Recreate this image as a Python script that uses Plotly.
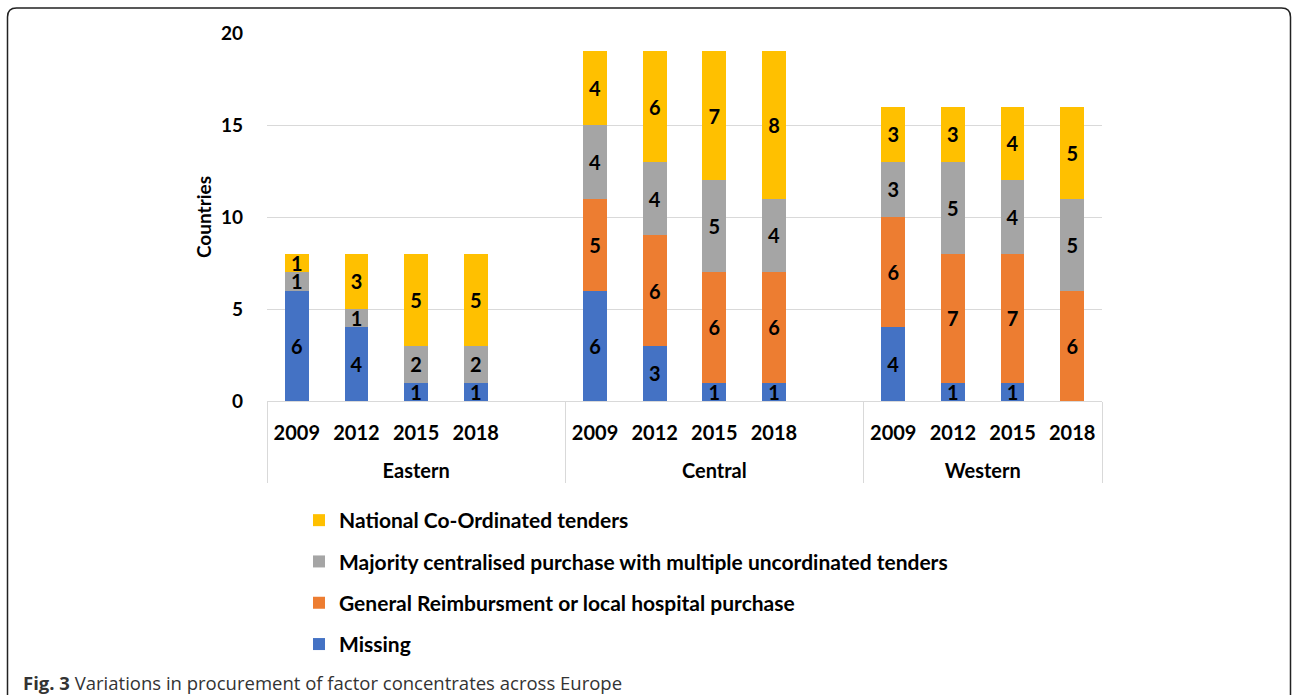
import plotly.graph_objects as go

regions = ["Eastern"] * 5 + ["Central"] * 5 + ["Western"] * 4
years = ["2009", "2012", "2015", "2018", " "] * 2 + ["2009", "2012", "2015", "2018"]

missing = [6, 4, 1, 1, None, 6, 3, 1, 1, None, 4, 1, 1, 0]
general = [0, 0, 0, 0, None, 5, 6, 6, 6, None, 6, 7, 7, 6]
majority = [1, 1, 2, 2, None, 4, 4, 5, 4, None, 3, 5, 4, 5]
national = [1, 3, 5, 5, None, 4, 6, 7, 8, None, 3, 3, 4, 5]

series = [
    ("Missing", missing, "#4472C4", 4),
    ("General Reimbursment or local hospital purchase", general, "#ED7D31", 3),
    ("Majority centralised purchase with multiple uncordinated tenders", majority, "#A5A5A5", 2),
    ("National Co-Ordinated tenders", national, "#FFC000", 1),
]

FONT = "Lato"
W, H = 1292, 695
L, R, T, B = 267, 1102, 33, 401


def px2x(px):
    return (px - L) / (R - L)


def px2y(py):
    return (B - py) / (B - T)


fig = go.Figure()
for name, vals, color, rank in series:
    fig.add_trace(go.Bar(
        name=name,
        x=[["<br>" + r for r in regions], years],
        y=vals,
        marker=dict(color=color, line=dict(width=0)),
        text=[str(v) if v else "" for v in vals],
        textposition="inside",
        insidetextanchor="middle",
        textangle=0,
        constraintext="none",
        textfont=dict(family=FONT, size=20, color="black", weight="bold"),
        legendgroup=name,
        legendrank=rank,
        cliponaxis=False,
    ))

# rounded frame
x0, x1 = px2x(7.5), px2x(1290.5)
yt, yb = px2y(8), px2y(720)
rx = 9 / (R - L)
ry = 9 / (B - T)
frame = (f"M {x0},{yb} L {x0},{yt - ry} Q {x0},{yt} {x0 + rx},{yt} "
         f"L {x1 - rx},{yt} Q {x1},{yt} {x1},{yt - ry} L {x1},{yb}")

fig.update_layout(
    width=W, height=H,
    margin=dict(l=L, r=W - R, t=T, b=H - B),
    barmode="stack",
    bargap=0.6,
    plot_bgcolor="white",
    paper_bgcolor="white",
    uniformtext=dict(minsize=20, mode="show"),
    font=dict(family=FONT, size=20, color="black"),
    showlegend=True,
    legend=dict(
        x=px2x(299), y=px2y(500), xanchor="left", yanchor="top",
        traceorder="grouped", tracegroupgap=11,
        font=dict(family=FONT, size=21, color="black", weight="bold"),
        itemwidth=30,
    ),
    xaxis=dict(
        type="multicategory",
        showgrid=False,
        showline=True, linecolor="#D9D9D9", linewidth=1,
        ticks="",
        ticklabelstandoff=14,
        showdividers=True, dividercolor="#D9D9D9", dividerwidth=1,
        tickfont=dict(family=FONT, size=20, color="black", weight="bold"),
        fixedrange=True,
    ),
    yaxis=dict(
        range=[0, 20], tickvals=[0, 5, 10, 15, 20],
        showgrid=True, gridcolor="#D9D9D9", gridwidth=1,
        zeroline=False, showline=False, ticks="",
        ticklabelstandoff=23,
        tickfont=dict(family=FONT, size=19, color="black", weight="bold"),
    ),
    shapes=[dict(type="path", xref="paper", yref="paper", path=frame,
                 line=dict(color="#222222", width=1.5))],
    annotations=[
        dict(text="<b>Countries</b>", xref="paper", yref="paper",
             x=px2x(203), y=px2y(217), textangle=-90, showarrow=False,
             font=dict(family=FONT, size=19, color="black"),
             xanchor="center", yanchor="middle"),
        dict(text="<b>Fig. 3</b> Variations in procurement of factor concentrates across Europe",
             xref="paper", yref="paper", x=px2x(21), y=px2y(682),
             xanchor="left", yanchor="middle", showarrow=False,
             font=dict(family="Open Sans", size=18.5, color="#333333")),
    ],
)

fig.write_html("out.html", config={"displayModeBar": False},
               post_script="document.body.style.margin='0px';")
